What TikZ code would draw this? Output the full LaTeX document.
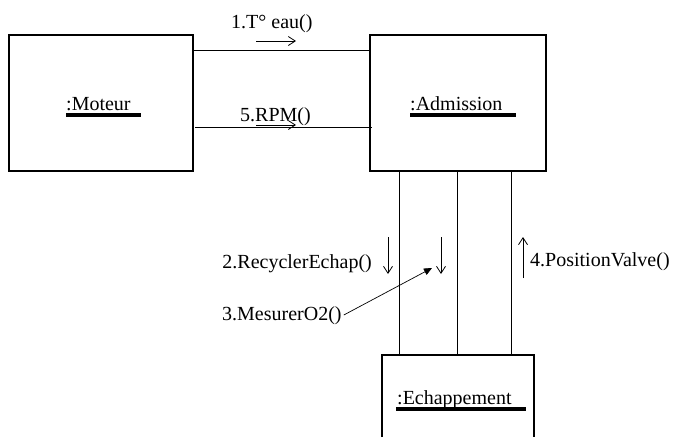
\documentclass[tikz,border=0pt]{standalone}
\usepackage{fontspec}
\setmainfont{Liberation Serif}
\usetikzlibrary{arrows.meta}
\begin{document}
\begin{tikzpicture}[x=1pt,y=-1pt,
  obj/.style={draw,line width=1.2pt,inner sep=0pt},
  lnk/.style={line width=0.9pt},
  msg/.style={line width=0.8pt,-{Straight Barb[length=7pt,width=9pt,line width=0.8pt]}},
  lbl/.style={font=\fontsize{20}{22}\selectfont,inner sep=0pt},
  ul/.style={line width=3.6pt}]
\useasboundingbox (0,0) rectangle (674,437);
% objects
\node[obj,minimum width=184pt,minimum height=136pt] (mot) at (101,103) {};
\node[obj,minimum width=176pt,minimum height=136pt] (adm) at (458,103) {};
\path[obj] (382,437) |- (534,355) -- (534,437);
\coordinate (ech) at (458,355);
% names
\node[lbl,anchor=base west] (motn) at (66,110) {:Moteur};
\draw[ul] (66,115) -- (141,115);
\node[lbl,anchor=base west] (admn) at (410,110) {:Admission};
\draw[ul] (410,115) -- (516,115);
\node[lbl,anchor=base west] (echn) at (397,404) {:Echappement};
\draw[ul] (396,409) -- (526,409);
% links
\draw[lnk] (193,50) -- (369,50);
\draw[lnk] (195,127) -- (372,127);
\draw[lnk] (399,171) -- (399,355);
\draw[lnk] (457,171) -- (457,355);
\draw[lnk] (511,171) -- (511,355);
% messages
\node[lbl,anchor=base west] (m1) at (231,28) {1.T° eau()};
\coordinate (m1a) at (256,41); \coordinate (m1b) at (296,41);
\draw[msg] (m1a) -- (m1b);
\node[lbl,anchor=base west] (m5) at (240,121) {5.RPM()};
\coordinate (m5a) at (256,125); \coordinate (m5b) at (296,125);
\draw[msg] (m5a) -- (m5b);
\node[lbl,anchor=base east] (m2) at (372,268) {2.RecyclerEchap()};
\coordinate (m2a) at (388,237); \coordinate (m2b) at (388,274);
\draw[msg] (m2a) -- (m2b);
\coordinate (m3a) at (441,237); \coordinate (m3b) at (441,274);
\draw[msg] (m3a) -- (m3b);
\node[lbl,anchor=base west] (m3) at (222,320) {3.MesurerO2()};
\coordinate (m3s) at ([xshift=2pt,yshift=5pt]m3.base east);
\coordinate (m3p) at (432,268);
\draw[line width=0.7pt,-{Triangle[length=8pt,width=7pt]}] (m3s) -- (m3p);
\coordinate (m4a) at (523,278); \coordinate (m4b) at (523,237);
\draw[msg] (m4a) -- (m4b);
\node[lbl,anchor=base west] (m4) at (530,266) {4.PositionValve()};
\end{tikzpicture}
\end{document}
